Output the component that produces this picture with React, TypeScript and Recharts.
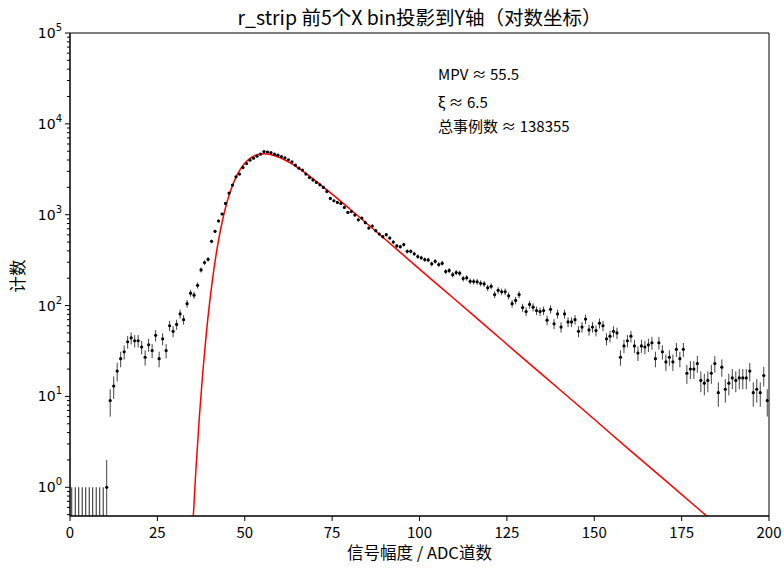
import React from 'react';
import { ComposedChart, Scatter, Line, XAxis, YAxis, ErrorBar, ReferenceArea } from 'recharts';

const TITLE = 'r_strip 前5个X bin投影到Y轴（对数坐标）';
const X_LABEL = '信号幅度 / ADC道数';
const Y_LABEL = '计数';
const ANNOTATIONS = ['MPV ≈ 55.5', 'ξ ≈ 6.5', '总事例数 ≈ 138355'];

const BIN_WIDTH = 1;
// counts per bin (bin i centred at i + 0.5)
const COUNTS = [
  0, 0, 0, 0, 0, 0, 0, 0, 0, 0,
  1, 9, 13, 19, 26, 31, 40, 44, 41, 41,
  35, 27, 37, 32, 47, 26, 43, 32, 60, 52,
  62, 81, 70, 105, 137, 130, 167, 247, 297, 323,
  509, 656, 853, 1018, 1331, 1730, 2118, 2612, 2798, 3304,
  3657, 3985, 4190, 4408, 4637, 4955, 4900, 4830, 4637, 4520,
  4365, 4226, 4017, 3820, 3512, 3255, 3097, 2798, 2566, 2403,
  2263, 2135, 1996, 1804, 1510, 1425, 1366, 1331, 1203, 1060,
  1083, 990, 878, 920, 817, 714, 751, 667, 613, 573,
  603, 554, 501, 453, 445, 469, 395, 395, 371, 346,
  335, 321, 318, 288, 307, 283, 292, 237, 243, 219,
  231, 227, 198, 202, 185, 184, 183, 176, 173, 157,
  163, 132, 147, 142, 142, 128, 105, 114, 132, 95,
  86, 103, 96, 88, 86, 88, 69, 91, 63, 81,
  58, 81, 66, 66, 70, 52, 58, 71, 54, 58,
  53, 64, 60, 43, 46, 52, 50, 27, 36, 41,
  46, 36, 30, 36, 35, 37, 39, 26, 39, 31,
  24, 27, 24, 33, 26, 33, 18, 20, 20, 23,
  15, 14, 15, 18, 23, 11, 21, 12, 14, 16,
  15, 16, 16, 16, 19, 11, 12, 11, 17, 9,
];

// Landau (Moyal) fit curve
const FIT_X = [34, 35, 36, 37, 38, 39, 40, 41, 42, 43, 44, 45, 46, 47, 48, 49, 50, 52, 54, 55.5, 57, 60, 63, 66, 70, 75, 80, 90, 100, 110, 120, 130, 140, 150, 160, 170, 180, 190, 200];
const FIT_Y = [0.047, 0.306, 1.51, 5.86, 18.6, 49.2, 112, 225, 405, 662, 1000, 1406, 1864, 2345, 2828, 3282, 3689, 4306, 4633, 4700, 4642, 4268, 3717, 3128, 2407, 1686, 1164, 544, 252, 118, 55, 25.6, 12, 5.6, 2.6, 1.22, 0.57, 0.265, 0.124];

const X_TICKS = [0, 25, 50, 75, 100, 125, 150, 175, 200];
const Y_MAJOR = [1, 10, 100, 1000, 10000, 100000];
const Y_MIN = 0.483;
const Y_MAX = 100000;

const W = 784;
const H = 571;
const PLOT = { left: 70, top: 33, right: 769, bottom: 516 };

const yTicks: number[] = [];
for (let k = -1; k <= 4; k++) {
  for (let m = 1; m <= 9; m++) {
    const v = m * Math.pow(10, k);
    if (v >= Y_MIN && v <= Y_MAX) yTicks.push(Number(v.toPrecision(3)));
  }
}
yTicks.push(Y_MAX);

const points = COUNTS.map((c, i) => ({ x: (i + 0.5) * BIN_WIDTH, c }))
  .filter((p) => p.c > 0)
  .map((p) => {
    const e = Math.sqrt(p.c);
    return { x: p.x, y: p.c, err: [Math.min(e, p.c - Y_MIN), e] };
  });

const zeroBins = COUNTS.map((c, i) => ({ x: (i + 0.5) * BIN_WIDTH, c }))
  .filter((p) => p.c === 0)
  .map((p) => {
    const e = 1; // upper Poisson error for an empty bin
    const top = p.c + e;
    return { x: p.x, y: top, err: [top - Y_MIN, 0] };
  });

const fit = FIT_X.map((x, i) => ({ x, y: FIT_Y[i] }));

const YTick = (props: any) => {
  const { x, y, payload } = props;
  const v = payload.value;
  const isMajor = Y_MAJOR.some((m) => Math.abs(m - v) / m < 1e-6);
  const len = isMajor ? 5 : 3;
  const exp = Math.round(Math.log10(v));
  return (
    <g>
      <line x1={x - len} x2={x} y1={y} y2={y} stroke="#000" strokeWidth={1} />
      {isMajor && (
        <text x={x - 8} y={y + 5} textAnchor="end" fontFamily="DejaVu Sans" fontSize={14} fill="#000">
          10<tspan dy={-7} fontSize={10}>{exp}</tspan>
        </text>
      )}
    </g>
  );
};

const XTick = (props: any) => {
  const { x, y, payload } = props;
  return (
    <g>
      <line x1={x} x2={x} y1={y} y2={y + 5} stroke="#000" strokeWidth={1} />
      <text x={x} y={y + 22} textAnchor="middle" fontFamily="Noto Sans CJK SC" fontSize={15} fill="#000">
        {payload.value}
      </text>
    </g>
  );
};

const Dot = (props: any) => {
  const { cx, cy } = props;
  return <circle cx={cx} cy={cy} r={1.6} fill="#000" />;
};

const NoDot = () => <g />;

export default function App() {
  const cx = (PLOT.left + PLOT.right) / 2;
  return (
    <div style={{ position: 'absolute', left: 0, top: 0, width: W, height: H, background: '#fff' }}>
      <ComposedChart
        width={W}
        height={H}
        margin={{ top: PLOT.top, right: W - PLOT.right, bottom: 0, left: 0 }}
      >
        <XAxis
          type="number"
          dataKey="x"
          domain={[0, 200]}
          ticks={X_TICKS}
          allowDataOverflow
          height={H - PLOT.bottom}
          tickSize={0}
          tickMargin={0}
          tickLine={false}
          tick={<XTick />}
          axisLine={{ stroke: '#000', strokeWidth: 1 }}
          interval={0}
        />
        <YAxis
          type="number"
          scale="log"
          domain={[Y_MIN, Y_MAX]}
          ticks={yTicks}
          allowDataOverflow
          width={PLOT.left}
          tickSize={0}
          tickMargin={0}
          tickLine={false}
          tick={<YTick />}
          axisLine={{ stroke: '#000', strokeWidth: 1 }}
          interval={0}
        />
        <ReferenceArea x1={0} x2={200} y1={Y_MIN} y2={Y_MAX} fill="none" stroke="#000" strokeWidth={1} ifOverflow="visible" />
        <Scatter data={zeroBins} dataKey="y" shape={<NoDot />} isAnimationActive={false}>
          <ErrorBar dataKey="err" direction="y" width={0} stroke="#222" strokeWidth={1} isAnimationActive={false} />
        </Scatter>
        <Scatter data={points} dataKey="y" shape={<Dot />} isAnimationActive={false}>
          <ErrorBar dataKey="err" direction="y" width={0} stroke="#444" strokeWidth={1} isAnimationActive={false} />
        </Scatter>
        <Line data={fit} dataKey="y" type="monotone" stroke="#ff0000" strokeWidth={1.5} dot={false} activeDot={false} isAnimationActive={false} />
      </ComposedChart>
      <svg width={W} height={H} style={{ position: 'absolute', left: 0, top: 0, pointerEvents: 'none' }}>
        <text x={cx} y={25} textAnchor="middle" fontFamily="Noto Sans CJK SC" fontSize={19.5} fill="#000">{TITLE}</text>
        <text x={cx} y={559} textAnchor="middle" fontFamily="Noto Sans CJK SC" fontSize={16.5} fill="#000">{X_LABEL}</text>
        <text x={0} y={0} transform={`translate(24, 276) rotate(-90)`} textAnchor="middle" fontFamily="Noto Sans CJK SC" fontSize={16.5} fill="#000">{Y_LABEL}</text>
        <text x={438} y={80} fontFamily="Noto Sans CJK SC" fontSize={15} fill="#000">{ANNOTATIONS[0]}</text>
        <text x={438} y={108} fontFamily="Noto Sans CJK SC" fontSize={15} fill="#000">{ANNOTATIONS[1]}</text>
        <text x={438} y={132} fontFamily="Noto Sans CJK SC" fontSize={15} fill="#000">{ANNOTATIONS[2]}</text>
      </svg>
    </div>
  );
}
